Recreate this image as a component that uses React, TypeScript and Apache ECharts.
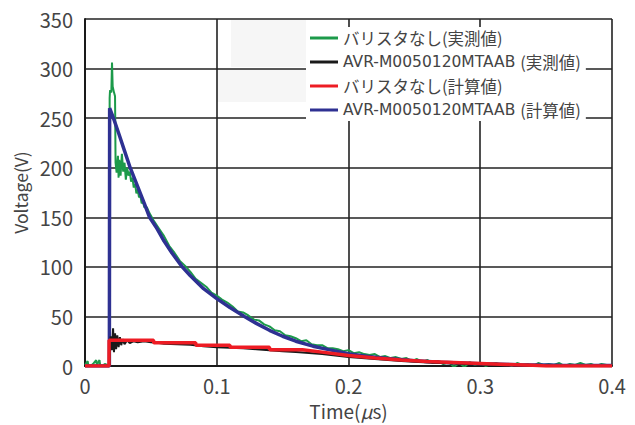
import React, { useEffect, useRef } from "react";
import * as echarts from "echarts";

const seriesNames = [
  "バリスタなし(実測値)",
  "AVR-M0050120MTAAB (実測値)",
  "バリスタなし(計算値)",
  "AVR-M0050120MTAAB (計算値)",
];
const seriesColors = ["#1c9a4a", "#1a1a1a", "#ed1c24", "#2e3192"];

// Green: without varistor (measured)
const greenT = [
  0, 0.002, 0.0025, 0.004, 0.006, 0.0085, 0.009, 0.011, 0.0115, 0.013, 0.015, 0.017, 0.0185,
  0.0187, 0.019, 0.02, 0.0205, 0.021, 0.022, 0.0228, 0.0232, 0.024, 0.025, 0.0255, 0.026, 0.027,
  0.028, 0.029, 0.03, 0.031, 0.032, 0.033, 0.034, 0.035, 0.036, 0.037, 0.038, 0.039, 0.04, 0.041,
  0.042, 0.043, 0.044, 0.045, 0.047, 0.049,
  0.052, 0.056, 0.06, 0.064, 0.068, 0.072, 0.076, 0.08, 0.084, 0.088, 0.092, 0.096, 0.1, 0.104,
  0.108, 0.112, 0.116, 0.12, 0.124, 0.128, 0.132, 0.136, 0.14, 0.144, 0.148, 0.152, 0.156, 0.16,
  0.164, 0.168, 0.172, 0.176, 0.18, 0.184, 0.188, 0.192, 0.196, 0.2, 0.204, 0.208, 0.212, 0.216,
  0.22, 0.224, 0.228, 0.232, 0.236, 0.24, 0.244, 0.248, 0.252, 0.256, 0.26, 0.264, 0.268, 0.272,
  0.276, 0.28, 0.284, 0.288, 0.292, 0.296, 0.3, 0.304, 0.308, 0.312, 0.316, 0.32, 0.324, 0.328,
  0.332, 0.336, 0.34, 0.344, 0.348, 0.352, 0.356, 0.36, 0.364, 0.368, 0.372, 0.376, 0.38, 0.384,
  0.388, 0.392, 0.396, 0.4,
];
const greenV = [
  1, 5, 1, 0, 2, 6, 1, 6, 1, 0, 2, 1, 1,
  270, 278, 276, 306, 282, 276, 272, 205, 195, 212, 190, 208, 192,
  214, 196, 205, 188, 200, 192, 196, 186, 190, 180, 184, 174, 178, 170,
  172, 164, 166, 160, 160, 154,
  147, 139, 131, 121, 114, 106, 101, 95, 88, 84, 80, 74, 71, 67,
  64, 60, 55, 54, 51, 47, 46, 42, 40, 36, 35, 31, 30, 28,
  25, 26, 22, 21, 21, 18, 18, 17, 15, 16, 13, 14, 12, 11,
  12, 9, 10, 8, 9, 7, 8, 5, 7, 4, 6, 3, 5, 2,
  4, -1, 3, -1, 4, 1, 3, 0, 2, 3, 1, 2, 0, 3,
  1, 2, 0, 3, 1, 2, 1, 3, 0, 2, 1, 3, 1, 2,
  0, 2, 1, 1,
];

// Black: AVR-M0050120MTAAB (measured)
const blackT = [
  0, 0.0185, 0.0188, 0.0195, 0.0205, 0.0213, 0.022, 0.0228, 0.0236, 0.0245, 0.0255, 0.0265,
  0.0275, 0.0285, 0.03, 0.032, 0.034, 0.037, 0.04, 0.045, 0.05, 0.055, 0.06, 0.07, 0.08, 0.09,
  0.1, 0.11, 0.12, 0.13, 0.14, 0.15, 0.16, 0.17, 0.18, 0.19, 0.2, 0.21, 0.22, 0.24, 0.26, 0.28,
  0.3, 0.32, 0.34, 0.36, 0.4,
];
const blackV = [
  0, 0, 22, 30, 16, 38, 14, 33, 17, 31, 19, 29,
  21, 27, 22, 26, 23, 25, 24, 25, 24, 23.5, 22.5, 22, 21.5, 20,
  19, 18.5, 18, 17, 16, 15, 14, 13, 12, 10.5, 9, 8, 7, 5, 3.5, 2.5,
  1.5, 1, 0.5, 0, 0,
];

// Red: without varistor (calculated)
const redT = [
  0, 0.0182, 0.0183, 0.052, 0.0522, 0.084, 0.0842, 0.11, 0.1102, 0.14, 0.1402, 0.165, 0.18, 0.2,
  0.22, 0.24, 0.26, 0.28, 0.3, 0.32, 0.34, 0.35, 0.4,
];
const redV = [
  0, 0, 26, 26, 23.5, 23.5, 21, 21, 19, 19, 16.5, 16.5, 14, 10.5,
  8, 6, 4.5, 3.5, 2.5, 1.5, 0.7, 0, 0,
];

// Blue: AVR-M0050120MTAAB (calculated)
const blueT = [
  0, 0.0185, 0.0187, 0.0216, 0.026, 0.03, 0.0343, 0.04, 0.045, 0.049, 0.054, 0.06, 0.066, 0.0738,
  0.08, 0.09, 0.1, 0.11, 0.121, 0.13, 0.14, 0.15, 0.16, 0.173, 0.185, 0.2, 0.215, 0.23, 0.25,
  0.27, 0.3, 0.33, 0.36, 0.4,
];
const blueV = [
  0, 0, 260, 250, 233, 217, 200, 181, 164, 150, 140, 126, 114, 100,
  91, 78, 68, 59, 50, 43, 36, 30, 25, 20, 16.5, 12.5, 9.5, 7.5, 5.2,
  3.8, 2.3, 1.3, 0.8, 0.4,
];

const xMin = 0;
const xMax = 0.4;
const xStep = 0.1;
const yMin = 0;
const yMax = 350;
const yStep = 50;

const zip = (t: number[], v: number[]) => t.map((x, i) => [x, v[i]]);

const FONT = "Noto Sans CJK JP";
const WIDE_FONT = "DejaVu Sans";

export default function App() {
  const ref = useRef<HTMLDivElement>(null);
  useEffect(() => {
    if (!ref.current) return;
    const chart = echarts.init(ref.current, undefined, { renderer: "svg" });
    const lineSeries = (idx: number, data: number[][], width: number, z: number) => ({
      name: seriesNames[idx],
      type: "line",
      data,
      showSymbol: false,
      symbol: "none",
      z,
      lineStyle: { color: seriesColors[idx], width },
      itemStyle: { color: seriesColors[idx] },
    });
    const legendRich = {
      l: { fontSize: 15.5, color: "#444", fontFamily: WIDE_FONT, lineHeight: 18 },
      c: { fontSize: 16.5, color: "#444", fontFamily: FONT, lineHeight: 18 },
    };
    chart.setOption({
      animation: false,
      grid: { left: 85, right: 23, top: 19, bottom: 57, show: false },
      xAxis: {
        type: "value",
        min: xMin,
        max: xMax,
        interval: xStep,
        name: "{a|Time(}{b|μ}{a|s)}",
        nameLocation: "middle",
        nameGap: 36,
        nameTextStyle: {
          rich: {
            a: { fontSize: 19, color: "#444", fontFamily: FONT, lineHeight: 17 },
            b: { fontSize: 19, color: "#444", fontFamily: FONT, fontStyle: "italic", lineHeight: 17 },
          },
        },
        axisLine: { show: true, lineStyle: { color: "#1a1a1a", width: 2 } },
        axisTick: { show: false },
        axisLabel: { fontSize: 20, color: "#444", margin: 10, fontFamily: FONT, lineHeight: 18 },
        splitLine: { show: true, lineStyle: { color: "#222", width: 1.6 } },
      },
      yAxis: {
        type: "value",
        min: yMin,
        max: yMax,
        interval: yStep,
        name: "Voltage(V)",
        nameLocation: "middle",
        nameGap: 55,
        nameTextStyle: { fontSize: 17.5, color: "#444", fontFamily: FONT },
        axisLine: { show: true, lineStyle: { color: "#1a1a1a", width: 2 } },
        axisTick: { show: false },
        axisLabel: { fontSize: 20, color: "#444", margin: 12, fontFamily: FONT },
        splitLine: { show: true, lineStyle: { color: "#222", width: 1.6 } },
      },
      legend: {
        orient: "vertical",
        left: 306,
        top: 27,
        data: seriesNames.map((name) => ({
          name,
          icon: "path://M0,0 L28,0 L28,3 L0,3 Z",
        })),
        formatter: (name: string) => {
          const m = name.match(/^([A-Za-z0-9-]+) (.*)$/);
          return m ? `{l|${m[1]} }{c|${m[2]}}` : `{c|${name}}`;
        },
        backgroundColor: "#ffffff",
        padding: [2, 5, 2, 4],
        itemWidth: 28,
        itemHeight: 3,
        itemGap: 6,
        textStyle: { fontSize: 16.5, color: "#444", fontFamily: FONT, lineHeight: 18, rich: legendRich },
        z: 10,
      },
      graphic: [
        {
          type: "rect",
          z: -1,
          silent: true,
          shape: { x: 231, y: 20, width: 75, height: 47 },
          style: { fill: "#f6f6f6" },
        },
        {
          type: "rect",
          z: -1,
          silent: true,
          shape: { x: 217, y: 69, width: 89, height: 33 },
          style: { fill: "#f6f6f6" },
        },
      ],
      series: [
        lineSeries(0, zip(greenT, greenV), 2, 2),
        lineSeries(3, zip(blueT, blueV), 3.5, 3),
        lineSeries(1, zip(blackT, blackV), 2, 4),
        lineSeries(2, zip(redT, redV), 3.5, 5),
      ],
    });
    return () => chart.dispose();
  }, []);
  return (
    <div
      ref={ref}
      style={{ position: "absolute", left: 0, top: 0, width: 635, height: 425, background: "#fff" }}
    />
  );
}
